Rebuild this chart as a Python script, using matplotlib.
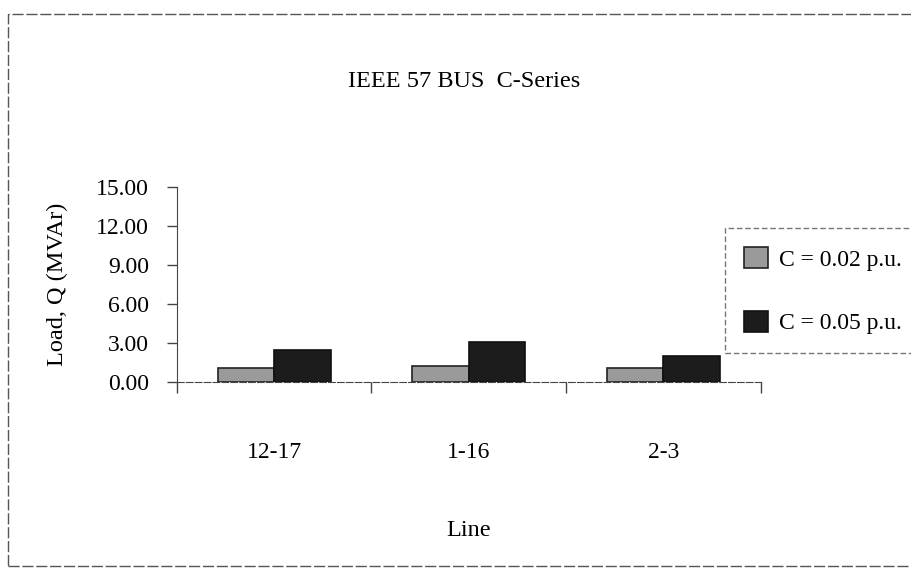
import numpy as np
import matplotlib
matplotlib.use("Agg")
import matplotlib.pyplot as plt
from matplotlib.patches import Rectangle

plt.rcParams["font.family"] = ["Liberation Serif", "DejaVu Serif"]

lines = ["12-17", "1-16", "2-3"]
q_c002 = [1.05, 1.2, 1.1]
q_c005 = [2.45, 3.1, 2.0]
series_labels = ["C = 0.02 p.u.", "C = 0.05 p.u."]
yticks = [0, 3, 6, 9, 12, 15]

fig = plt.figure(figsize=(9.11, 5.71), dpi=100)
ax = fig.add_axes([0.194, 0.331, 0.641, 0.3415])

x = np.arange(len(lines))
w = 0.29
b1 = ax.bar(x - w / 2, q_c002, w, color="#9a9a9a", edgecolor="#222222", linewidth=1.2,
            label=series_labels[0])
b2 = ax.bar(x + w / 2, q_c005, w, color="#1c1c1c", edgecolor="#111111", linewidth=1.2,
            label=series_labels[1])

ax.set_xlim(-0.5, len(lines) - 0.5)
ax.set_ylim(0, 15)
ax.set_yticks(yticks)
ax.set_yticklabels([f"{v:.2f}" for v in yticks], fontsize=17)
ax.set_xticks(x)
ax.set_xticklabels(lines, fontsize=17)
ax.set_xticks(np.arange(len(lines) + 1) - 0.5, minor=True)
ax.tick_params(axis="x", which="major", length=0, pad=43)
ax.tick_params(axis="x", which="minor", length=8, width=1, color="#444444")
ax.tick_params(axis="y", length=7, width=1, color="#444444", pad=13)

for s in ["top", "right"]:
    ax.spines[s].set_visible(False)
ax.spines["left"].set_color("#444444")
ax.spines["bottom"].set_color("#444444")
ax.spines["bottom"].set_linestyle((0, (6, 2)))

ax.set_ylabel("Load, Q (MVAr)", fontsize=17.5, labelpad=20)
ax.set_xlabel("Line", fontsize=17.5, labelpad=41)
fig.text(0.509, 0.857, "IEEE 57 BUS  C-Series", fontsize=17.5, ha="center", va="center")

# outer chart frame (runs off the right edge like the scan)
fig.patches.append(Rectangle((8 / 911, 5 / 571), 1.2, 552 / 571, transform=fig.transFigure,
                             fill=False, edgecolor="#555555", linewidth=1, linestyle=(0, (8, 2))))

leg = fig.legend(handles=[b1, b2], loc="upper left", bbox_to_anchor=(725 / 911, 1 - 228 / 571),
                 fontsize=17, frameon=True, fancybox=False, handlelength=1.0, handleheight=1.0,
                 handletextpad=0.5, labelspacing=1.7, borderpad=0.8, borderaxespad=0)
leg.get_frame().set_edgecolor("#555555")
leg.get_frame().set_linestyle((0, (4, 2)))
leg.get_frame().set_linewidth(1)

fig.savefig("out.png", dpi=100)
